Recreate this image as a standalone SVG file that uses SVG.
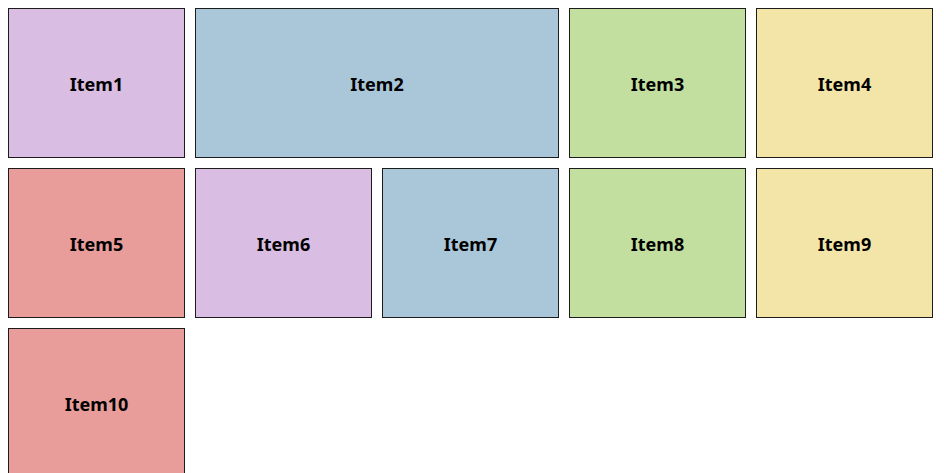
<svg xmlns="http://www.w3.org/2000/svg" width="944" height="473" viewBox="0 0 944 473">
<style>
.b{stroke:#1c1c1c;stroke-width:1}
.p{fill:#d9bde2}.u{fill:#aac7d9}.g{fill:#c2dfa0}.y{fill:#f3e4a7}.r{fill:#e89d9b}
text{font-family:"Noto Sans","Open Sans","Liberation Sans",sans-serif;font-weight:bold;font-size:18px;fill:#000;text-anchor:middle;dominant-baseline:central}
</style>
<rect width="944" height="473" fill="#fff"/>
<g id="item1"><rect class="b p" x="8.5" y="8.5" width="176" height="149"/><text x="96.5" y="84">Item1</text></g>
<g id="item2"><rect class="b u" x="195.5" y="8.5" width="363" height="149"/><text x="377" y="84">Item2</text></g>
<g id="item3"><rect class="b g" x="569.5" y="8.5" width="176" height="149"/><text x="657.5" y="84">Item3</text></g>
<g id="item4"><rect class="b y" x="756.5" y="8.5" width="176" height="149"/><text x="844.5" y="84">Item4</text></g>
<g id="item5"><rect class="b r" x="8.5" y="168.5" width="176" height="149"/><text x="96.5" y="244">Item5</text></g>
<g id="item6"><rect class="b p" x="195.5" y="168.5" width="176" height="149"/><text x="283.5" y="244">Item6</text></g>
<g id="item7"><rect class="b u" x="382.5" y="168.5" width="176" height="149"/><text x="470.5" y="244">Item7</text></g>
<g id="item8"><rect class="b g" x="569.5" y="168.5" width="176" height="149"/><text x="657.5" y="244">Item8</text></g>
<g id="item9"><rect class="b y" x="756.5" y="168.5" width="176" height="149"/><text x="844.5" y="244">Item9</text></g>
<g id="item10"><rect class="b r" x="8.5" y="328.5" width="176" height="149"/><text x="96.5" y="404">Item10</text></g>
<g id="connectors"></g>
</svg>
